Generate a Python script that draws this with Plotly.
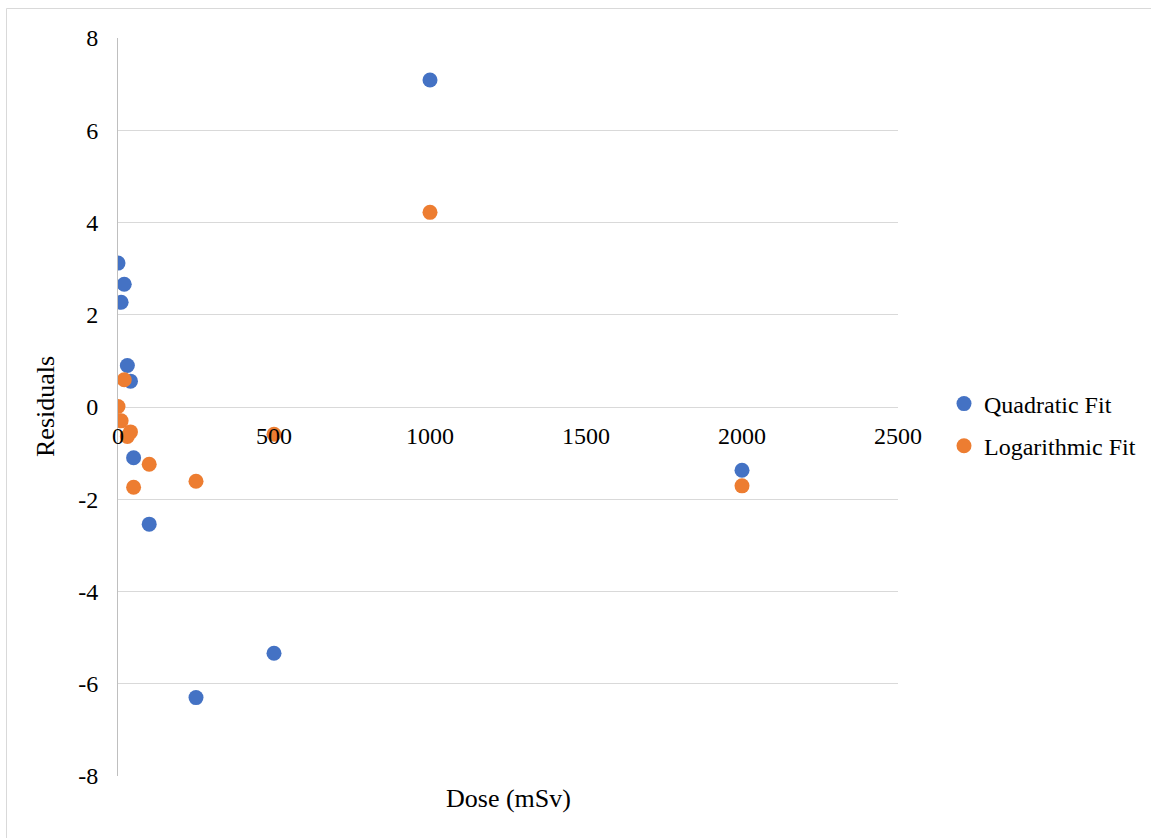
import plotly.graph_objects as go

# Data
dose = [0, 10, 20, 30, 40, 50, 100, 250, 500, 1000, 2000]
quadratic_resid = [3.12, 2.27, 2.66, 0.90, 0.56, -1.10, -2.54, -6.30, -5.34, 7.09, -1.37]
log_resid = [0.01, -0.30, 0.59, -0.64, -0.54, -1.74, -1.24, -1.61, -0.59, 4.22, -1.71]
series_names = ["Quadratic Fit", "Logarithmic Fit"]
colors = ["#4472C4", "#ED7D31"]
x_ticks = [0, 500, 1000, 1500, 2000, 2500]
y_ticks = [-8, -6, -4, -2, 0, 2, 4, 6, 8]
x_title = "Dose (mSv)"
y_title = "Residuals"

FONT = "Liberation Serif"
W, H = 1151, 838
L, R, T, B = 118, 253, 38, 62
pw = W - L - R
ph = H - T - B

fig = go.Figure()
for name, ys, c, grp in zip(series_names, [quadratic_resid, log_resid], colors, ["a", "b"]):
    fig.add_trace(go.Scatter(
        x=dose, y=ys, mode="markers", name=name, legendgroup=grp,
        marker=dict(size=15, color=c, line=dict(width=0)),
    ))

fig.update_layout(
    width=W, height=H,
    margin=dict(l=L, r=R, t=T, b=B, autoexpand=False),
    paper_bgcolor="white", plot_bgcolor="white",
    font=dict(family=FONT, color="black", size=24),
    xaxis=dict(
        range=[0, 2500], tickvals=x_ticks, ticktext=[str(v) for v in x_ticks],
        showgrid=False, zeroline=False, showline=False,
        anchor="free", position=0.5, ticks="",
        tickfont=dict(size=24, family=FONT, color="black"),
        ticklabelstandoff=12,
    ),
    yaxis=dict(
        range=[-8, 8], tickvals=y_ticks, ticktext=[str(v) for v in y_ticks],
        showgrid=True, gridcolor="#D9D9D9", gridwidth=1,
        zeroline=False, showline=True, linecolor="#BFBFBF", linewidth=1,
        ticks="", tickfont=dict(size=24, family=FONT, color="black"),
        ticklabelstandoff=14,
    ),
    legend=dict(
        x=(944 - L) / pw, y=(H - B - 425) / ph, yanchor="middle",
        xanchor="left", font=dict(size=24, family=FONT, color="black"),
        tracegroupgap=8, traceorder="grouped", bgcolor="rgba(0,0,0,0)",
        itemwidth=30,
    ),
    showlegend=True,
)

fig.add_annotation(
    text=x_title, xref="paper", yref="paper", x=0.5, y=0,
    yanchor="top", yshift=-6, showarrow=False,
    font=dict(size=26, family=FONT, color="black"),
)
fig.add_annotation(
    text=y_title, xref="paper", yref="paper", x=(45 - L) / pw, y=0.5,
    xanchor="center", yanchor="middle", textangle=-90, showarrow=False,
    font=dict(size=26, family=FONT, color="black"),
)

# chart-area border
fig.add_shape(
    type="rect", xref="paper", yref="paper",
    x0=(6.5 - L) / pw, x1=(W + 10 - L) / pw,
    y0=(H - B - (H + 10)) / ph, y1=(H - B - 8.5) / ph,
    line=dict(color="#D9D9D9", width=1), fillcolor="rgba(0,0,0,0)",
    layer="below",
)

fig.write_html(
    "out.html",
    config={"displayModeBar": False},
    post_script="document.body.style.margin='0';document.body.style.overflow='hidden';",
)
